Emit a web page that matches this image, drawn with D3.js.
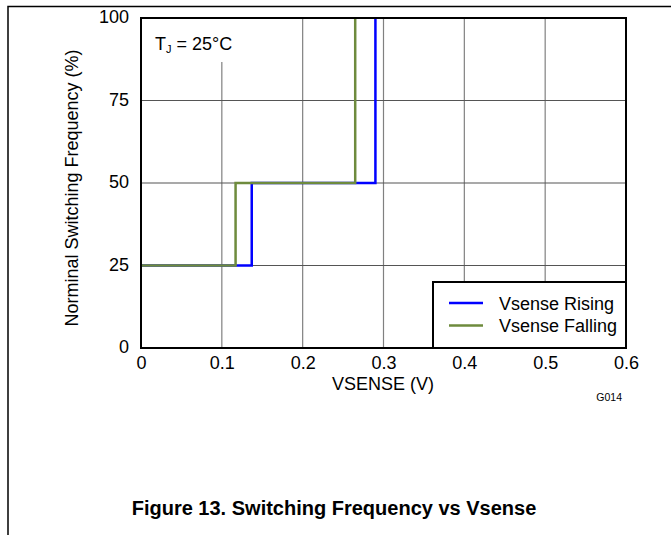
<!DOCTYPE html>
<html><head><meta charset="utf-8">
<script src="https://cdn.jsdelivr.net/npm/d3@7"></script>
<style>body{margin:0;background:#fff}svg{display:block;font-family:Arial,"Liberation Sans",sans-serif}</style>
</head><body>
<script>
const xTicks = [0, 0.1, 0.2, 0.3, 0.4, 0.5, 0.6];
const yTicks = [0, 25, 50, 75, 100];
const risingV = [0, 0.137, 0.137, 0.29, 0.29];
const risingF = [25, 25, 50, 50, 100];
const fallingV = [0, 0.117, 0.117, 0.265, 0.265];
const fallingF = [25, 25, 50, 50, 100];
const seriesNames = ["Vsense Rising", "Vsense Falling"];
const seriesColors = ["#0000ff", "#6e8b3d"];

const W = 671, H = 535;
const FF = "Arial, 'Liberation Sans', sans-serif";
const svg = d3.select("body").append("svg").attr("width", W).attr("height", H);
const L = 141, R = 626, T = 18, B = 348;
const x = d3.scaleLinear().domain([0, 0.6]).range([L, R]);
const y = d3.scaleLinear().domain([0, 100]).range([B, T]);

// page border
svg.append("path").attr("d", `M8,${H}V6.5H${W}`).attr("fill", "none").attr("stroke", "#000").attr("stroke-width", 1.5);

// grid
svg.append("g").selectAll("line").data(xTicks.slice(1, -1)).join("line")
  .attr("x1", d => x(d)).attr("x2", d => x(d)).attr("y1", T).attr("y2", B)
  .attr("stroke", "#808080").attr("stroke-width", 1.2);
svg.append("g").selectAll("line").data(yTicks.slice(1, -1)).join("line")
  .attr("x1", L).attr("x2", R).attr("y1", d => y(d)).attr("y2", d => y(d))
  .attr("stroke", "#555").attr("stroke-width", 1.2);

// annotation box (hides grid)
svg.append("rect").attr("x", L).attr("y", T).attr("width", 104).attr("height", 44).attr("fill", "#fff");
const ann = svg.append("text").attr("x", 155).attr("y", 50).attr("font-size", 18).attr("fill", "#000");
ann.append("tspan").text("T");
ann.append("tspan").attr("font-size", 11).attr("dy", 3).text("J");
ann.append("tspan").attr("dy", -3).text(" = 25°C");

// lines
const line = d3.line().x(d => x(d[0])).y(d => y(d[1]));
const rising = risingV.map((v, i) => [v, risingF[i]]);
const falling = fallingV.map((v, i) => [v, fallingF[i]]);
svg.append("path").datum(rising).attr("d", line).attr("fill", "none").attr("stroke", seriesColors[0]).attr("stroke-width", 2.5);
svg.append("path").datum(falling).attr("d", line).attr("fill", "none").attr("stroke", seriesColors[1]).attr("stroke-width", 2.5);

// legend
const lg = svg.append("g");
lg.append("rect").attr("x", 433).attr("y", 282).attr("width", R - 433).attr("height", B - 282)
  .attr("fill", "#fff").attr("stroke", "#000").attr("stroke-width", 2);
seriesNames.forEach((n, i) => {
  const yy = 303 + i * 22.5;
  lg.append("line").attr("x1", 449).attr("x2", 483).attr("y1", yy).attr("y2", yy).attr("stroke", seriesColors[i]).attr("stroke-width", 2.5);
  lg.append("text").attr("x", 499).attr("y", yy + 6.5).attr("font-size", 18).text(n);
});

// frame
svg.append("rect").attr("x", L).attr("y", T).attr("width", R - L).attr("height", B - T)
  .attr("fill", "none").attr("stroke", "#000").attr("stroke-width", 2);

// axes labels
const xa = svg.append("g").attr("transform", `translate(0,${B})`).call(d3.axisBottom(x).tickValues(xTicks).tickSize(0).tickPadding(8).tickFormat(d3.format("")));
xa.select(".domain").remove();
xa.selectAll("text").attr("font-size", 18).attr("font-family", FF).attr("fill", "#000");
const ya = svg.append("g").attr("transform", `translate(${L},0)`).call(d3.axisLeft(y).tickValues(yTicks).tickSize(0).tickPadding(12));
ya.select(".domain").remove();
ya.selectAll("text").attr("font-size", 18).attr("font-family", FF).attr("fill", "#000").attr("dy", "0.25em");

svg.append("text").attr("x", 383).attr("y", 390).attr("text-anchor", "middle").attr("font-size", 18).text("VSENSE (V)");
svg.append("text").attr("transform", `translate(78,${(T + B) / 2 + 5}) rotate(-90)`).attr("text-anchor", "middle").attr("font-size", 18).text("Norminal Switching Frequency (%)");
svg.append("text").attr("x", 622).attr("y", 401).attr("text-anchor", "end").attr("font-size", 10.5).text("G014");
svg.append("text").attr("x", 334).attr("y", 515).attr("text-anchor", "middle").attr("font-size", 20).attr("font-weight", "bold").text("Figure 13. Switching Frequency vs Vsense");
</script>
</body></html>
